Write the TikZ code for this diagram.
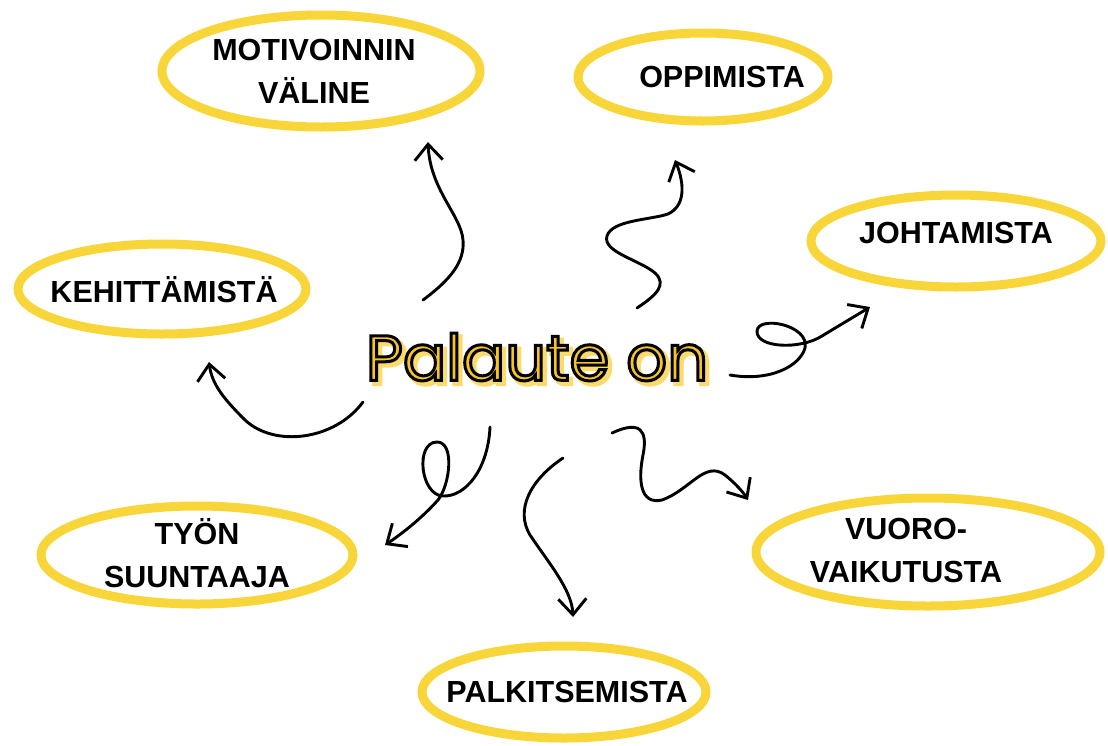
\documentclass[tikz,border=0pt]{standalone}
\usepackage{fontspec}
\setmainfont{Liberation Sans}
\newfontfamily\titlefont{Poppins}
\usetikzlibrary{arrows.meta}
\definecolor{ring}{RGB}{248,214,58}
\definecolor{sun}{RGB}{246,196,36}
% outlined text: fill in the current colour, stroke in black
\newcommand{\inked}[2]{\special{pdf:literal direct 2 Tr #1 w 0 G}#2\special{pdf:literal direct 0 Tr}}
\newcommand{\shaded}[2]{\special{pdf:literal direct 2 Tr #1 w 0.98 0.86 0.42 RG}#2\special{pdf:literal direct 0 Tr}}

\begin{document}
\begin{tikzpicture}[x=1pt,y=-1pt,
  tag/.style={align=center,inner sep=0pt,font=\fontsize{30.5}{43}\selectfont\bfseries},
  loopline/.style={draw=ring,line width=9pt},
  scrawl/.style={line width=2.9pt,line cap=round,line join=round,
    -{Straight Barb[length=16pt,width=28pt,line width=2.9pt]}},
  headline/.style={font=\titlefont\fontsize{64}{68}\selectfont}]
  \useasboundingbox[fill=white] (0,0) rectangle (1108,745);

  % bubbles
  \draw[loopline] (321,71) ellipse [x radius=159,y radius=56];
  \draw[loopline] (703,77) ellipse [x radius=125,y radius=44];
  \draw[loopline] (956,241) ellipse [x radius=145,y radius=46];
  \draw[loopline] (162,289) ellipse [x radius=144,y radius=45];
  \draw[loopline] (197,555) ellipse [x radius=156,y radius=49];
  \draw[loopline] (928,552) ellipse [x radius=172,y radius=54];
  \draw[loopline] (564,692) ellipse [x radius=142,y radius=46];

  \node[tag] (motiv) at (314,71) {MOTIVOINNIN\\V\"ALINE};
  \node[tag] (oppim) at (722,77) {OPPIMISTA};
  \node[tag] (johtam) at (956,233) {JOHTAMISTA};
  \node[tag] (kehit) at (164,290) {KEHITT\"AMIST\"A};
  \node[tag] (suunta) at (197,553) {TY\"ON\\SUUNTAAJA};
  \node[tag] (vuoro) at (906,550) {VUORO-\\VAIKUTUSTA};
  \node[tag] (palkit) at (567,692) {PALKITSEMISTA};

  % title with shadow and outline
  \node[headline,text=sun!70,xshift=3.5pt,yshift=-3.5pt] (shadow) at (537,357) {\shaded{4.5}{Palaute on}};
  \node[headline,text=sun] (title) at (537,357) {\inked{3}{Palaute on}};

  % arrows
  \coordinate (m0) at (423,300);
  \coordinate (m1) at (428,142);
  \draw[scrawl] (m0) .. controls (450,280) and (465,262) .. (463,240)
    .. controls (461,215) and (430,190) .. (m1);
  \coordinate (o0) at (637,308);
  \coordinate (o1) at (675,160);
  \draw[scrawl] (o0) .. controls (655,296) and (668,285) .. (655,273)
    .. controls (640,260) and (602,252) .. (607,236)
    .. controls (612,220) and (650,220) .. (668,214)
    .. controls (685,206) and (685,185) .. (o1);
  \coordinate (k0) at (363,402);
  \coordinate (k1) at (209,362);
  \draw[scrawl] (k0) .. controls (335,440) and (275,448) .. (245,420)
    .. controls (225,400) and (212,385) .. (k1);
  \coordinate (t0) at (490,427);
  \coordinate (t1) at (385,545);
  \draw[scrawl] (t0) .. controls (488,470) and (465,497) .. (443,496)
    .. controls (420,495) and (415,442) .. (437,442)
    .. controls (455,442) and (450,485) .. (438,500)
    .. controls (420,520) and (400,535) .. (t1);
  \coordinate (p0) at (563,458);
  \coordinate (p1) at (573,617);
  \draw[scrawl] (p0) .. controls (530,480) and (515,510) .. (530,535)
    .. controls (548,562) and (572,590) .. (p1);
  \coordinate (v0) at (612,433);
  \coordinate (v1) at (748,500);
  \draw[scrawl] (v0) .. controls (640,420) and (648,430) .. (643,455)
    .. controls (638,480) and (640,505) .. (662,500)
    .. controls (690,490) and (705,460) .. (725,475)
    .. controls (735,483) and (743,492) .. (v1);
  \coordinate (j0) at (730,375);
  \coordinate (j1) at (870,307);
  \draw[scrawl] (j0) .. controls (770,382) and (800,366) .. (805,348)
    .. controls (810,325) and (758,315) .. (757,331)
    .. controls (756,348) and (800,350) .. (822,336)
    .. controls (840,325) and (852,318) .. (j1);
\end{tikzpicture}
\end{document}
